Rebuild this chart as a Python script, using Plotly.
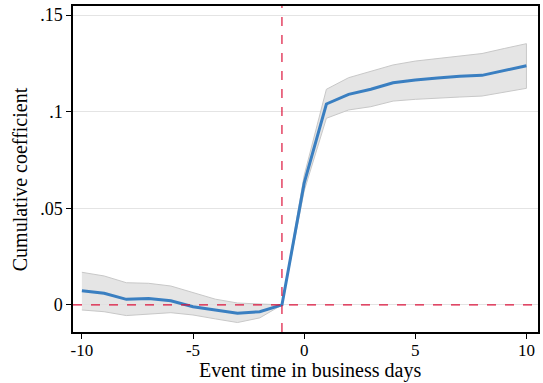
import plotly.graph_objects as go

# Event-study estimates: cumulative coefficient with confidence band
event_time = [-10, -9, -8, -7, -6, -5, -4, -3, -2, -1, 0, 1, 2, 3, 4, 5, 6, 7, 8, 9, 10]
coef = [0.0074, 0.0060, 0.0029, 0.0033, 0.0022, -0.0009, -0.0026, -0.0043, -0.0035, 0.0,
        0.063, 0.104, 0.109, 0.1116, 0.115, 0.1164, 0.1174, 0.1183, 0.1188, 0.1214, 0.1238]
upper = [0.0169, 0.0150, 0.0115, 0.0112, 0.0098, 0.0064, 0.0030, 0.0010, 0.0005, 0.0,
         0.067, 0.1116, 0.1176, 0.1207, 0.1242, 0.1262, 0.1276, 0.1290, 0.1301, 0.1327, 0.1352]
lower = [-0.0026, -0.0035, -0.0055, -0.0047, -0.0040, -0.0052, -0.0072, -0.0091, -0.0067, 0.0,
         0.059, 0.0966, 0.1009, 0.1026, 0.1055, 0.1064, 0.1071, 0.1076, 0.1081, 0.1100, 0.1121]

x_ticks = [-10, -5, 0, 5, 10]
x_tick_text = ["-10", "-5", "0", "5", "10"]
y_ticks = [0, 0.05, 0.1, 0.15]
y_tick_text = ["0", ".05", ".1", ".15"]

FONT = "Liberation Serif, Times New Roman, serif"
BLUE = "#3a7fc1"
RED = "#dc143c"

W, H = 543, 383
ML, MR, MT, MB = 73, 3, 6, 51

fig = go.Figure()

# Confidence band
fig.add_trace(go.Scatter(
    x=event_time + event_time[::-1],
    y=upper + lower[::-1],
    fill="toself",
    fillcolor="rgba(225,225,225,0.85)",
    line=dict(color="#c8c8c8", width=1),
    hoverinfo="skip",
    showlegend=False,
))

# Reference lines
fig.add_hline(y=0, line=dict(color=RED, width=1.2, dash="dash"), layer="above")
fig.add_vline(x=-1, line=dict(color=RED, width=1.2, dash="dash"), layer="above")

# Point estimates
fig.add_trace(go.Scatter(
    x=event_time, y=coef, mode="lines",
    line=dict(color=BLUE, width=3),
    showlegend=False,
))

fig.update_layout(
    width=W, height=H,
    margin=dict(l=ML, r=MR, t=MT, b=MB),
    paper_bgcolor="white",
    plot_bgcolor="white",
    font=dict(family=FONT, size=18, color="black"),
)

fig.update_xaxes(
    range=[-10.4, 10.52],
    tickvals=x_ticks, ticktext=x_tick_text,
    ticks="outside", ticklen=5, tickwidth=1, tickcolor="black",
    ticklabelstandoff=-3,
    showline=True, linecolor="black", linewidth=1.5, mirror=True,
    showgrid=False, zeroline=False,
    tickfont=dict(size=17, family=FONT),
)

fig.update_yaxes(
    range=[-0.014, 0.1547],
    tickvals=y_ticks, ticktext=y_tick_text,
    ticks="outside", ticklen=5, tickwidth=1, tickcolor="black",
    showline=True, linecolor="black", linewidth=1.5, mirror=True,
    showgrid=True, gridcolor="#e4e4e4", gridwidth=1.2,
    zeroline=False,
    tickfont=dict(size=18, family=FONT),
)

# Axis titles, placed in paper pixels
fig.add_annotation(
    text="Event time in business days",
    xref="paper", yref="paper",
    x=(311 - ML) / (W - ML - MR), y=-MB / (H - MT - MB),
    xanchor="center", yanchor="bottom", showarrow=False, borderpad=0,
    font=dict(size=20, family=FONT, color="black"),
)
fig.add_annotation(
    text="Cumulative coefficient",
    xref="paper", yref="paper",
    x=-(ML - 20) / (W - ML - MR), y=((H - MB) - 179) / (H - MT - MB),
    xanchor="center", yanchor="middle", showarrow=False, textangle=-90,
    font=dict(size=20, family=FONT, color="black"),
)

fig.write_html("out.html")
